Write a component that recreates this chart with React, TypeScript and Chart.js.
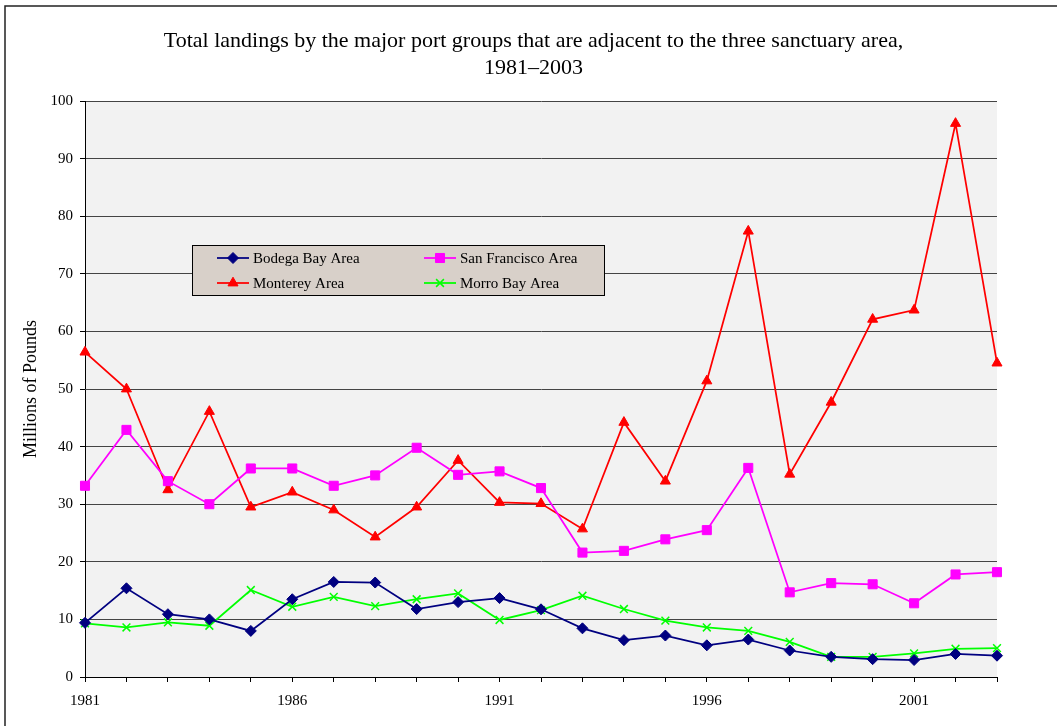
import React, { useEffect, useRef } from 'react';
import { Chart, registerables } from 'chart.js';
import { drawPoint } from 'chart.js/helpers';

Chart.register(...registerables);

const years = [
  '1981', '1982', '1983', '1984', '1985', '1986', '1987', '1988', '1989', '1990', '1991', '1992',
  '1993', '1994', '1995', '1996', '1997', '1998', '1999', '2000', '2001', '2002', '2003',
];
const shownYears = ['1981', '1986', '1991', '1996', '2001'];

const bodegaBay = [9.4, 15.4, 10.9, 10.0, 8.0, 13.5, 16.5, 16.4, 11.8, 13.0, 13.7, 11.75, 8.45, 6.4, 7.2, 5.5, 6.5, 4.6, 3.5, 3.1, 2.95, 4.0, 3.7];
const sanFrancisco = [33.2, 42.9, 34.0, 30.0, 36.2, 36.2, 33.2, 35.0, 39.8, 35.1, 35.7, 32.8, 21.6, 21.9, 23.9, 25.5, 36.3, 14.7, 16.3, 16.1, 12.8, 17.8, 18.2];
const monterey = [56.4, 50.0, 32.5, 46.1, 29.5, 32.1, 29.0, 24.3, 29.5, 37.6, 30.3, 30.1, 25.7, 44.2, 34.0, 51.4, 77.4, 35.2, 47.7, 62.1, 63.7, 96.1, 54.5];
const morroBay = [9.3, 8.6, 9.5, 8.9, 15.1, 12.2, 13.9, 12.3, 13.5, 14.5, 9.9, 11.6, 14.1, 11.8, 9.8, 8.6, 8.0, 6.1, 3.5, 3.5, 4.1, 4.9, 5.0];

const seriesNames = ['Bodega Bay Area', 'San Francisco Area', 'Monterey Area', 'Morro Bay Area'];
const titleLines = ['Total landings by the major port groups that are adjacent to the three sanctuary area,', '1981\u20132003'];
const yAxisTitle = 'Millions of Pounds';

const SERIF = '"Liberation Serif", "Times New Roman", serif';

const framePlugin = {
  id: 'frameAndBg',
  beforeDraw(chart: any) {
    const { ctx, chartArea } = chart;
    ctx.save();
    ctx.fillStyle = '#ffffff';
    ctx.fillRect(0, 0, chart.width, chart.height);
    ctx.fillStyle = '#f2f2f2';
    ctx.fillRect(chartArea.left, chartArea.top, chartArea.right - chartArea.left, chartArea.bottom - chartArea.top);
    ctx.strokeStyle = '#222';
    ctx.lineWidth = 1.5;
    ctx.beginPath();
    ctx.moveTo(5, chart.height + 5);
    ctx.lineTo(5, 6);
    ctx.lineTo(chart.width + 5, 6);
    ctx.stroke();
    // title
    ctx.fillStyle = '#000';
    ctx.font = `22px ${SERIF}`;
    ctx.textAlign = 'center';
    ctx.textBaseline = 'alphabetic';
    ctx.fillText(titleLines[0], 533.5, 47);
    ctx.fillText(titleLines[1], 533.5, 74);
    ctx.restore();
  },
};

const legendPlugin = {
  id: 'boxLegend',
  afterDraw(chart: any) {
    const { ctx } = chart;
    ctx.save();
    ctx.fillStyle = '#d8d0c9';
    ctx.fillRect(192, 245, 413, 50);
    ctx.strokeStyle = '#000';
    ctx.lineWidth = 1;
    ctx.strokeRect(192.5, 245.5, 412, 50);
    const colX = [217, 424];
    const rowY = [258, 283];
    chart.data.datasets.forEach((ds: any, i: number) => {
      const x = colX[i % 2];
      const y = rowY[Math.floor(i / 2)];
      ctx.strokeStyle = ds.borderColor;
      ctx.lineWidth = 1.75;
      ctx.beginPath();
      ctx.moveTo(x, y);
      ctx.lineTo(x + 32, y);
      ctx.stroke();
      ctx.fillStyle = ds.pointBackgroundColor;
      ctx.strokeStyle = ds.borderColor;
      ctx.lineWidth = ds.pointBorderWidth;
      drawPoint(ctx, { pointStyle: ds.pointStyle, radius: ds.pointRadius, rotation: 0, borderWidth: ds.pointBorderWidth }, x + 16, y);
      ctx.fillStyle = '#000';
      ctx.font = `15px ${SERIF}`;
      ctx.textAlign = 'left';
      ctx.textBaseline = 'middle';
      ctx.fillText(ds.label, x + 36, y + 1);
    });
    ctx.restore();
  },
};

export default function App() {
  const ref = useRef<HTMLCanvasElement>(null);
  useEffect(() => {
    const mk = (label: string, data: number[], color: string, style: string, radius: number, bw: number) => ({
      label,
      data,
      borderColor: color,
      backgroundColor: color,
      pointBackgroundColor: color,
      pointBorderColor: color,
      pointStyle: style,
      pointRadius: radius,
      pointHoverRadius: radius,
      pointBorderWidth: bw,
      borderWidth: 1.75,
      tension: 0,
      clip: false as any,
    });
    const chart = new Chart(ref.current!, {
      type: 'line',
      data: {
        labels: years,
        datasets: [
          mk(seriesNames[0], bodegaBay, '#000080', 'rectRot', 5.5, 1),
          mk(seriesNames[1], sanFrancisco, '#ff00ff', 'rect', 6.4, 1),
          mk(seriesNames[2], monterey, '#ff0000', 'triangle', 5.8, 1),
          mk(seriesNames[3], morroBay, '#00ff00', 'crossRot', 5.5, 1.5),
        ],
      },
      options: {
        responsive: false,
        animation: false,
        devicePixelRatio: 1,
        layout: { padding: { left: 0, right: 60, top: 101, bottom: 0 } },
        plugins: {
          legend: { display: false },
          title: { display: false },
          tooltip: { enabled: false },
        },
        scales: {
          x: {
            type: 'category',
            offset: false,
            grid: { display: true, drawOnChartArea: false, color: '#000', tickLength: 5, lineWidth: 1 },
            border: { display: true, color: '#000', width: 1 },
            ticks: {
              autoSkip: false,
              maxRotation: 0,
              color: '#000',
              padding: 10,
              font: { family: SERIF, size: 15 },
              callback: (_v: any, i: number) => (shownYears.includes(years[i]) ? years[i] : ''),
            },
            afterFit: (s: any) => { s.height = 49; },
          },
          y: {
            min: 0,
            max: 100,
            ticks: { stepSize: 10, color: '#000', padding: 7, font: { family: SERIF, size: 15 } },
            grid: { color: '#444', tickColor: '#000', tickLength: 5, lineWidth: 1 },
            border: { display: true, color: '#000', width: 1 },
            title: { display: true, text: yAxisTitle, color: '#000', font: { family: SERIF, size: 18 }, padding: { top: 20, bottom: 0 } },
            afterFit: (s: any) => { s.width = 85; },
          },
        },
      },
      plugins: [framePlugin, legendPlugin],
    });
    return () => chart.destroy();
  }, []);
  return (
    <div style={{ position: 'absolute', left: 0, top: 0, width: 1057, height: 726, overflow: 'hidden', background: '#fff' }}>
      <canvas ref={ref} width={1057} height={726} style={{ display: 'block', width: 1057, height: 726 }} />
    </div>
  );
}
